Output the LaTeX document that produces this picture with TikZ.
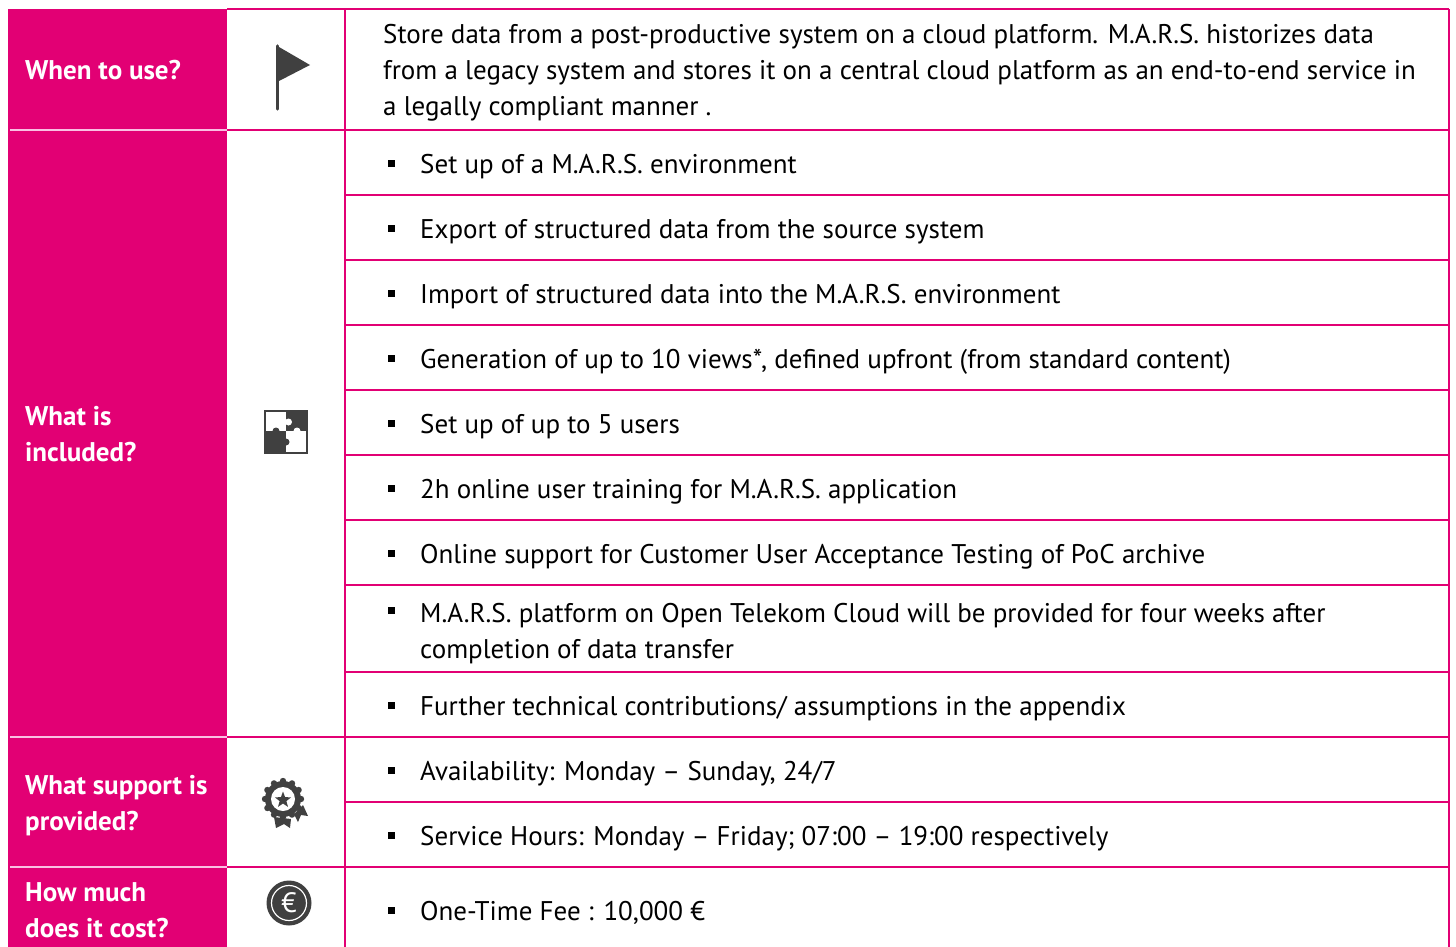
\documentclass[tikz,border=0pt]{standalone}
\usepackage{fontspec}
\setmainfont{PT Sans}
\usepackage{xcolor}
\usetikzlibrary{positioning, shapes.geometric}
\definecolor{tmagenta}{HTML}{E20074}
\definecolor{icongray}{HTML}{404040}
\tikzset{
  gridline/.style={tmagenta, line width=2pt},
  sepline/.style={magenta!25!white, line width=1.5pt},
  headtext/.style={white, anchor=base west, align=left, inner sep=0pt, font=\bfseries\fontsize{27}{36}\selectfont},
  itemtext/.style={anchor=base west, align=left, inner sep=0pt, font=\fontsize{27}{36}\selectfont},
  bullet/.style={fill=black, minimum size=7pt, inner sep=0pt},
}

\begin{document}
\begin{tikzpicture}[x=1pt, y=-1pt]
        \useasboundingbox (0,0) rectangle (1456,947);
        \coordinate (L1) at (8,9);
        \coordinate (L2) at (227,947);
        \coordinate (M1) at (345,9);
        \coordinate (M2) at (345,947);
        \coordinate (R1) at (1449,9);
        \coordinate (R2) at (1449,947);
        % left column
        \fill[tmagenta] (L1) rectangle (L2);
        \draw[sepline] (10,130) -- (227,130);
        \draw[sepline] (10,737) -- (227,737);
        \draw[sepline] (10,867) -- (227,867);
        % grid
        \draw[gridline] (227,9) -- (R1);
        \draw[gridline] (M1) -- (M2);
        \draw[gridline] (R1) -- (R2);
        \draw[gridline] (227,130) -- (1449,130);
        \draw[gridline] (227,737) -- (1449,737);
        \draw[gridline] (227,867) -- (1449,867);
        \draw[gridline] (345,195) -- (1449,195);
        \draw[gridline] (345,260) -- (1449,260);
        \draw[gridline] (345,325) -- (1449,325);
        \draw[gridline] (345,390) -- (1449,390);
        \draw[gridline] (345,455) -- (1449,455);
        \draw[gridline] (345,520) -- (1449,520);
        \draw[gridline] (345,585) -- (1449,585);
        \draw[gridline] (345,672) -- (1449,672);
        \draw[gridline] (345,802) -- (1449,802);
        % headings (base = last line)
        \node[headtext] (when) at (25,80) {When to use?};
        \node[headtext] (what) at (25,461) {What is\\included?};
        \node[headtext] (support) at (25,830) {What support is\\provided?};
        \node[headtext] (cost) at (25,937) {How much\\does it cost?};
        % flag
        \draw[icongray, line width=3.5pt, line cap=round] (277.5,46) -- (277.5,109);
        \fill[icongray] (279,47) -- (310,65) -- (279,81) -- cycle;
        % puzzle
        \fill[icongray] (264,410) rectangle (308,454);
        \fill[white] (266,412) rectangle (286,431);
        \fill[white] (288.5,422) circle (3.5);
        \fill[icongray] (276,431) circle (3.5);
        \fill[white] (286,431) rectangle (306,452);
        \fill[white] (297,431) circle (3.5);
        \fill[icongray] (286,442) circle (3.5);
        % award
        \fill[icongray] (283,799) circle (18);
        \foreach \a in {0,30,...,330}
          \fill[icongray] (283,799) ++(\a:18) circle (3.2);
        \fill[white] (283,799) circle (12);
        \node[star, star points=5, star point ratio=2.4, fill=icongray, minimum size=17pt, inner sep=0pt] (star) at (283,800) {};
        \fill[white] (283,799) ++(-70:21) -- ++(-160:4) -- ++(-100:8) -- ++(20:7) -- cycle;
        \fill[icongray] (274,817) -- (291,819) -- (290,828) -- (284,824) -- (276,828) -- cycle;
        \fill[icongray] (294,814) -- (303,805) -- (308,816) -- (301,815) -- (298,822) -- cycle;
        % euro
        \fill[icongray] (289,903) circle (22.5);
        \draw[white, line width=1.2pt] (289,903) circle (17.5);
        \node[white, font=\fontsize{28}{28}\selectfont] (euro) at (289,903) {€};
        % first row (base = last line)
        \node[itemtext] (store) at (383,116) {Store data from a post-productive system on a cloud platform. M.A.R.S. historizes data\\from a legacy system and stores it on a central cloud platform as an end-to-end service in\\a legally compliant manner .};
        % items
        \node[bullet] (b1) at (391,163) {};
        \node[itemtext] (i1) at (420,173) {Set up of a M.A.R.S. environment};
        \node[bullet] (b2) at (391,228) {};
        \node[itemtext] (i2) at (420,238) {Export of structured data from the source system};
        \node[bullet] (b3) at (391,293) {};
        \node[itemtext] (i3) at (420,303) {Import of structured data into the M.A.R.S. environment};
        \node[bullet] (b4) at (391,358) {};
        \node[itemtext] (i4) at (420,368) {Generation of up to 10 views*, defined upfront (from standard content)};
        \node[bullet] (b5) at (391,423) {};
        \node[itemtext] (i5) at (420,433) {Set up of up to 5 users};
        \node[bullet] (b6) at (391,488) {};
        \node[itemtext] (i6) at (420,498) {2h online user training for M.A.R.S. application};
        \node[bullet] (b7) at (391,553) {};
        \node[itemtext] (i7) at (420,563) {Online support for Customer User Acceptance Testing of PoC archive};
        \node[bullet] (b8) at (391,610) {};
        \node[itemtext] (i8) at (420,658) {M.A.R.S. platform on Open Telekom Cloud will be provided for four weeks after\\completion of data transfer};
        \node[bullet] (b9) at (391,705) {};
        \node[itemtext] (i9) at (420,715) {Further technical contributions/ assumptions in the appendix};
        \node[bullet] (b10) at (391,770) {};
        \node[itemtext] (i10) at (420,780) {Availability: Monday -- Sunday, 24/7};
        \node[bullet] (b11) at (391,835) {};
        \node[itemtext] (i11) at (420,845) {Service Hours: Monday -- Friday; 07:00 -- 19:00 respectively};
        \node[bullet] (b12) at (391,910) {};
        \node[itemtext] (i12) at (420,920) {One-Time Fee : 10,000 €};
    \end{tikzpicture}
\end{document}
